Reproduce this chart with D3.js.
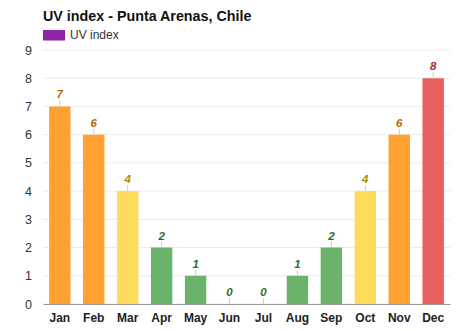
<!DOCTYPE html>
<html><head><meta charset="utf-8">
<script src="https://cdn.jsdelivr.net/npm/d3@7"></script>
<style>body{margin:0;background:#fff;font-family:Arial,"Liberation Sans",sans-serif}</style>
</head><body><svg id="c" width="474" height="331"></svg>
<script>
const months = ["Jan","Feb","Mar","Apr","May","Jun","Jul","Aug","Sep","Oct","Nov","Dec"];
const uvValues = [7,6,4,2,1,0,0,1,2,4,6,8];
const yTicks = [0,1,2,3,4,5,6,7,8,9];
const title = "UV index - Punta Arenas, Chile";
const legendLabel = "UV index";

function fillFor(v){ if(v>=8) return "#E8605E"; if(v>=5) return "#FFA033"; if(v>=3) return "#FFDB5C"; return "#6BB26B"; }
function textFor(v){ if(v>=8) return "#A8252A"; if(v>=5) return "#B86400"; if(v>=3) return "#A88E00"; return "#2E6B2E"; }

const FONT = "Arial,'Liberation Sans',sans-serif";
const svg = d3.select("#c");
const m = {l:43, r:24, t:50, b:27};
const W = 474, H = 331;
const x = d3.scaleBand().domain(months).range([m.l, W-m.r]).paddingInner(0.37).paddingOuter(0.18);
const y = d3.scaleLinear().domain([0,9]).range([H-m.b, m.t]);

svg.append("g").selectAll("line").data(yTicks).join("line")
  .attr("x1", m.l).attr("x2", W-m.r).attr("y1", d=>y(d)).attr("y2", d=>y(d))
  .attr("stroke", "#ebebeb").attr("stroke-width", 1);

const yAxis = svg.append("g").attr("transform", `translate(${m.l},0)`)
  .call(d3.axisLeft(y).tickValues(yTicks).tickSize(0).tickPadding(11));
yAxis.select(".domain").remove();
yAxis.selectAll("text").attr("font-size", 12.5).attr("fill", "#333").attr("font-family", FONT);

svg.append("g").selectAll("rect").data(months).join("rect")
  .attr("x", d=>x(d)).attr("width", x.bandwidth())
  .attr("y", (d,i)=>y(uvValues[i])).attr("height", (d,i)=>y(0)-y(uvValues[i]))
  .attr("fill", (d,i)=>fillFor(uvValues[i]));

svg.append("g").selectAll("line").data(months).join("line")
  .attr("x1", d=>x(d)+x.bandwidth()/2).attr("x2", d=>x(d)+x.bandwidth()/2)
  .attr("y1", (d,i)=>y(uvValues[i])).attr("y2", (d,i)=>y(uvValues[i])-6)
  .attr("stroke", "#ccc");

svg.append("g").selectAll("text").data(months).join("text")
  .attr("x", d=>x(d)+x.bandwidth()/2).attr("y", (d,i)=>y(uvValues[i])-8)
  .attr("text-anchor","middle").attr("font-size", 11.5).attr("font-weight","bold").attr("font-style","italic")
  .attr("font-family", FONT)
  .attr("fill", (d,i)=>textFor(uvValues[i])).text((d,i)=>uvValues[i]);

const xAxis = svg.append("g").attr("transform", `translate(0,${y(0)})`)
  .call(d3.axisBottom(x).tickSize(0).tickPadding(9));
xAxis.select(".domain").attr("stroke", "#999");
xAxis.selectAll("text").attr("font-size", 12).attr("font-weight","bold").attr("fill","#222").attr("font-family", FONT);

svg.append("text").attr("x", 43).attr("y", 20.5).attr("font-size", 14.3).attr("font-weight","bold").attr("fill","#111").attr("font-family", FONT).text(title);
svg.append("rect").attr("x", 43).attr("y", 30).attr("width", 22).attr("height", 10.5).attr("fill", "#8E24AA");
svg.append("text").attr("x", 70).attr("y", 39).attr("font-size", 12).attr("fill","#333").attr("font-family", FONT).text(legendLabel);
</script></body></html>
